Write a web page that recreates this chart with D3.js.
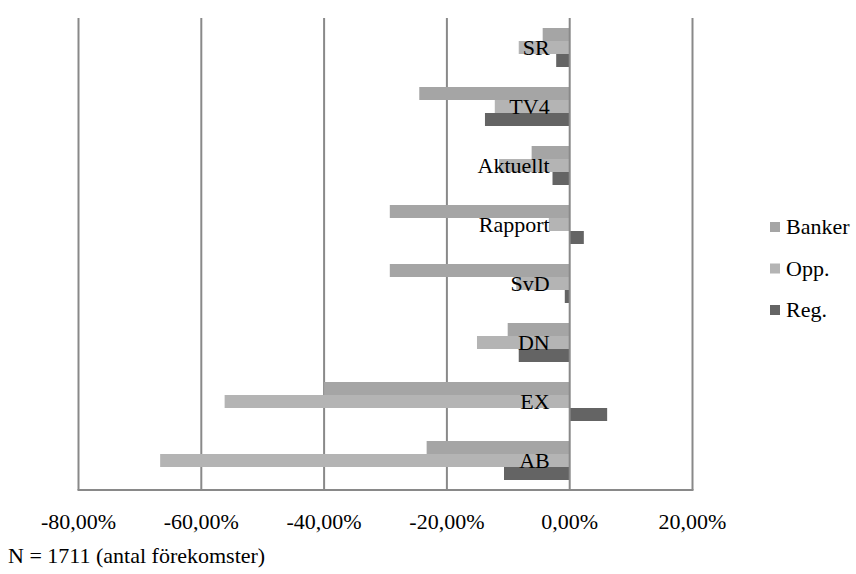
<!DOCTYPE html>
<html>
<head>
<meta charset="utf-8">
<script src="https://cdn.jsdelivr.net/npm/d3@7"></script>
<style>
  html, body { margin: 0; padding: 0; background: #fff; }
</style>
</head>
<body>
<svg id="chart" width="856" height="574"></svg>
<script>
const categories = ["SR", "TV4", "Aktuellt", "Rapport", "SvD", "DN", "EX", "AB"];
const seriesNames = ["Banker", "Opp.", "Reg."];
const banker = [-0.044, -0.245, -0.062, -0.293, -0.293, -0.101, -0.400, -0.233];
const opp    = [-0.083, -0.122, -0.115, -0.034, -0.087, -0.151, -0.562, -0.667];
const reg    = [-0.022, -0.138, -0.028, 0.023, -0.008, -0.083, 0.061, -0.107];
const tickValues = [-0.8, -0.6, -0.4, -0.2, 0, 0.2];
const colors = ["#a5a5a5", "#b4b4b4", "#646464"];
const footnote = "N = 1711 (antal förekomster)";

const FONT = "'Liberation Serif', 'DejaVu Serif', serif";
const svg = d3.select("#chart").attr("font-family", FONT);
const plotLeft = 78.5, plotRight = 692.5, plotTop = 18, plotBottom = 490;

const x = d3.scaleLinear().domain([-0.8, 0.2]).range([plotLeft, plotRight]);
const y = d3.scaleBand().domain(categories).range([plotTop, plotBottom])
  .paddingInner(0.339).paddingOuter(0.1695);
const ySeries = d3.scaleBand().domain(seriesNames).range([0, y.bandwidth()]);

const fmt = v => d3.format(".2f")(v * 100).replace(".", ",").replace("\u2212", "-") + "%";
const gridColor = "#898989";
const fs = 22;

// gridlines
svg.append("g").selectAll("line").data(tickValues.filter(v => v !== 0)).join("line")
  .attr("x1", d => x(d)).attr("x2", d => x(d))
  .attr("y1", plotTop).attr("y2", plotBottom)
  .attr("stroke", gridColor).attr("stroke-width", 2);

// bottom axis line
svg.append("line").attr("x1", plotLeft - 1).attr("x2", plotRight + 1)
  .attr("y1", plotBottom).attr("y2", plotBottom)
  .attr("stroke", gridColor).attr("stroke-width", 2);

// bars
const data = [banker, opp, reg];
const barsG = svg.append("g");
seriesNames.forEach((s, si) => {
  barsG.append("g").selectAll("rect").data(categories).join("rect")
    .attr("x", (c, i) => Math.min(x(0), x(data[si][i])))
    .attr("width", (c, i) => Math.abs(x(data[si][i]) - x(0)))
    .attr("y", c => y(c) + ySeries(s))
    .attr("height", ySeries.bandwidth())
    .attr("fill", colors[si]);
});

// zero axis line
svg.append("line").attr("x1", x(0)).attr("x2", x(0))
  .attr("y1", plotTop).attr("y2", plotBottom)
  .attr("stroke", gridColor).attr("stroke-width", 2);

// category labels
svg.append("g").selectAll("text").data(categories).join("text")
  .attr("x", x(0) - 20)
  .attr("y", c => y(c) + y.bandwidth() / 2)
  .attr("dy", "0.33em")
  .attr("text-anchor", "end")
  .attr("font-size", fs)
  .text(c => c);

// tick labels
svg.append("g").selectAll("text").data(tickValues).join("text")
  .attr("x", d => x(d))
  .attr("y", 529)
  .attr("text-anchor", "middle")
  .attr("font-size", fs)
  .text(d => fmt(d));

// legend
const legend = svg.append("g");
seriesNames.forEach((s, i) => {
  const cy = 227 + i * 41.5;
  legend.append("rect").attr("x", 770).attr("y", cy - 5).attr("width", 10).attr("height", 10)
    .attr("fill", colors[i]);
  legend.append("text").attr("x", 786).attr("y", cy).attr("dy", "0.33em")
    .attr("font-size", fs).text(s);
});

// footnote
svg.append("text").attr("x", 8).attr("y", 563).attr("font-size", fs).text(footnote);
</script>
</body>
</html>
